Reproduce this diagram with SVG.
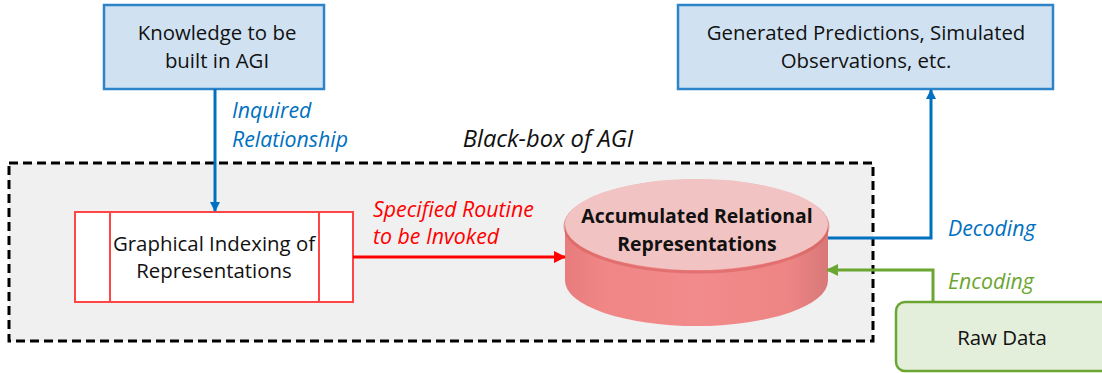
<svg xmlns="http://www.w3.org/2000/svg" width="1102" height="373" viewBox="0 0 1102 373">
  <style>
    .lbl { font-family: "Open Sans", "Liberation Sans", sans-serif; font-size: 20.4px; fill: #111; text-anchor: middle; }
    .bold { font-weight: bold; font-size: 19.4px; }
    .it { font-family: "Open Sans", "Liberation Sans", sans-serif; font-style: italic; font-size: 21.3px; }
    .title { font-size: 23.7px; }
    .blueBox { fill: #D0E2F2; stroke: #2E84C8; stroke-width: 2.5; }
    .conn { fill: none; stroke-width: 3; }
  </style>
  <defs>
    <marker id="arrBlue" markerWidth="10" markerHeight="10" refX="9" refY="5" orient="auto" markerUnits="userSpaceOnUse" viewBox="0 0 10 10">
      <path d="M0,0 L10,5 L0,10 z" fill="#0070C0"/>
    </marker>
    <marker id="arrRed" markerWidth="12" markerHeight="12" refX="11" refY="6" orient="auto" markerUnits="userSpaceOnUse" viewBox="0 0 12 12">
      <path d="M0,0 L12,6 L0,12 z" fill="#FF0000"/>
    </marker>
    <marker id="arrGreen" markerWidth="12" markerHeight="12" refX="11" refY="6" orient="auto" markerUnits="userSpaceOnUse" viewBox="0 0 12 12">
      <path d="M0,0 L12,6 L0,12 z" fill="#6BA632"/>
    </marker>
    <linearGradient id="bodyGrad" x1="0" y1="0" x2="1" y2="0">
      <stop offset="0" stop-color="#E87C7C"/>
      <stop offset="0.15" stop-color="#F08686"/>
      <stop offset="0.5" stop-color="#F28B8B"/>
      <stop offset="0.85" stop-color="#EE8585"/>
      <stop offset="1" stop-color="#D87878"/>
    </linearGradient>
  </defs>

  <!-- black-box container -->
  <g id="blackbox">
    <rect x="9" y="163" width="864" height="178" fill="#F0F0F0" stroke="#000" stroke-width="3" stroke-dasharray="9,5"/>
    <text class="it title" x="548" y="147" text-anchor="middle" fill="#111">Black-box of AGI</text>
  </g>

  <g id="knowledge">
    <rect class="blueBox" x="104" y="5" width="220" height="84"/>
    <text class="lbl" x="217" y="40">Knowledge to be</text>
    <text class="lbl" x="217" y="68">built in AGI</text>
  </g>

  <g id="predictions">
    <rect class="blueBox" x="678" y="5" width="375" height="84"/>
    <text class="lbl" x="866" y="40">Generated Predictions, Simulated</text>
    <text class="lbl" x="866" y="68">Observations, etc.</text>
  </g>

  <g id="indexing">
    <rect x="75" y="212" width="278" height="90" fill="#fff" stroke="#FF4545" stroke-width="2"/>
    <line x1="110" y1="212" x2="110" y2="302" stroke="#FF4545" stroke-width="2"/>
    <line x1="319" y1="212" x2="319" y2="302" stroke="#FF4545" stroke-width="2"/>
    <text class="lbl" x="214" y="251">Graphical Indexing of</text>
    <text class="lbl" x="214" y="278">Representations</text>
  </g>

  <g id="store">
    <path d="M565,224.5 L565,280.5 A131.5,45.5 0 0 0 828,280.5 L828,224.5 Z" fill="url(#bodyGrad)"/>
    <ellipse cx="696.5" cy="226.5" rx="131.5" ry="45.5" fill="none" stroke="#D96060" stroke-width="3" opacity="0.6"/>
    <ellipse cx="696.5" cy="224.5" rx="131.5" ry="45.5" fill="#F2C3C3"/>
    <text class="lbl bold" x="697" y="223">Accumulated Relational</text>
    <text class="lbl bold" x="697" y="251">Representations</text>
  </g>

  <g id="rawdata">
    <rect x="896" y="302" width="220" height="69" rx="9" ry="9" fill="#E3EFDA" stroke="#6BA632" stroke-width="2.5"/>
    <text class="lbl" x="1002" y="345">Raw Data</text>
  </g>

  <g id="connectors">
    <path class="conn" d="M215,89 L215,211" stroke="#0070C0" marker-end="url(#arrBlue)"/>
    <text class="it" x="232" y="118" fill="#0070C0">Inquired</text>
    <text class="it" x="232" y="147" fill="#0070C0">Relationship</text>

    <path class="conn" d="M353,257 L565,257" stroke="#FF0000" marker-end="url(#arrRed)"/>
    <text class="it" x="373" y="217" fill="#FF0000">Specified Routine</text>
    <text class="it" x="373" y="244" fill="#FF0000">to be Invoked</text>

    <path class="conn" d="M828,238 L931,238 L931,90" stroke="#0070C0" marker-end="url(#arrBlue)"/>
    <text class="it" x="948" y="236" fill="#0070C0">Decoding</text>

    <path class="conn" d="M933,302 L933,270 L827,270" stroke="#6BA632" marker-end="url(#arrGreen)"/>
    <text class="it" x="948" y="289" fill="#6BA632">Encoding</text>
  </g>
</svg>
